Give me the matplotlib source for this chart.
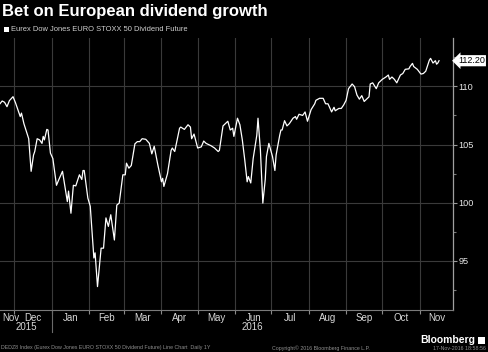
import matplotlib
matplotlib.use('Agg')
import matplotlib.pyplot as plt
import matplotlib.dates as mdates
import matplotlib.transforms as mtransforms
from matplotlib.ticker import FixedLocator, MultipleLocator, NullFormatter, FixedFormatter
import pandas as pd

dates = [
    "2015-11-19", "2015-11-21", "2015-11-23", "2015-11-25", "2015-11-27", "2015-11-30",
    "2015-12-02", "2015-12-06", "2015-12-07", "2015-12-09", "2015-12-13", "2015-12-15",
    "2015-12-17", "2015-12-18", "2015-12-20", "2015-12-22", "2015-12-24", "2015-12-25",
    "2015-12-26", "2015-12-28", "2015-12-29", "2015-12-31",
    "2016-01-02", "2016-01-05", "2016-01-07", "2016-01-10", "2016-01-12", "2016-01-14",
    "2016-01-15", "2016-01-17", "2016-01-19", "2016-01-21", "2016-01-24", "2016-01-26",
    "2016-01-27", "2016-01-28", "2016-01-31",
    "2016-02-02", "2016-02-05", "2016-02-06", "2016-02-08", "2016-02-11", "2016-02-13",
    "2016-02-15", "2016-02-17", "2016-02-19", "2016-02-22", "2016-02-24", "2016-02-26",
    "2016-02-29",
    "2016-03-02", "2016-03-03", "2016-03-05", "2016-03-07", "2016-03-10", "2016-03-12",
    "2016-03-14", "2016-03-16", "2016-03-19", "2016-03-22", "2016-03-24", "2016-03-26",
    "2016-03-29",
    "2016-04-01", "2016-04-02", "2016-04-03", "2016-04-06", "2016-04-09", "2016-04-10",
    "2016-04-12", "2016-04-16", "2016-04-17", "2016-04-20", "2016-04-23", "2016-04-25",
    "2016-04-26", "2016-04-28",
    "2016-05-01", "2016-05-04", "2016-05-06", "2016-05-08", "2016-05-12", "2016-05-15",
    "2016-05-18", "2016-05-19", "2016-05-22", "2016-05-24", "2016-05-26", "2016-05-28",
    "2016-05-30", "2016-05-31",
    "2016-06-03", "2016-06-05", "2016-06-07", "2016-06-09", "2016-06-11", "2016-06-12",
    "2016-06-14", "2016-06-16", "2016-06-18", "2016-06-19", "2016-06-20", "2016-06-22",
    "2016-06-24", "2016-06-26", "2016-06-27", "2016-06-29",
    "2016-07-02", "2016-07-04", "2016-07-05", "2016-07-08", "2016-07-09", "2016-07-10",
    "2016-07-12", "2016-07-14", "2016-07-16", "2016-07-19", "2016-07-21", "2016-07-22",
    "2016-07-24", "2016-07-27", "2016-07-29", "2016-07-31",
    "2016-08-03", "2016-08-06", "2016-08-07", "2016-08-10", "2016-08-13", "2016-08-15",
    "2016-08-17", "2016-08-20", "2016-08-22", "2016-08-23", "2016-08-26", "2016-08-28",
    "2016-08-30",
    "2016-09-01", "2016-09-03", "2016-09-06", "2016-09-08", "2016-09-10", "2016-09-12",
    "2016-09-14", "2016-09-16", "2016-09-18", "2016-09-20", "2016-09-21", "2016-09-23",
    "2016-09-25", "2016-09-26", "2016-09-28",
    "2016-10-01", "2016-10-04", "2016-10-06", "2016-10-07", "2016-10-09", "2016-10-11",
    "2016-10-13", "2016-10-16", "2016-10-18", "2016-10-20", "2016-10-23", "2016-10-24",
    "2016-10-26", "2016-10-27", "2016-10-30",
    "2016-11-02", "2016-11-04", "2016-11-06", "2016-11-09", "2016-11-10", "2016-11-12",
    "2016-11-14", "2016-11-15", "2016-11-16", "2016-11-17",
]

values = [
    108.48, 108.74, 108.63, 108.25, 108.77, 109.11,
    108.60, 107.40, 107.70, 106.80, 105.50, 102.70,
    104.10, 104.40, 105.50, 105.40, 105.10, 105.70,
    105.40, 106.30, 106.25, 104.26,
    103.80, 101.50, 102.00, 102.70, 101.40, 100.10,
    101.00, 99.10, 101.50, 101.45, 102.40, 102.00,
    102.77, 102.77, 100.40,
    99.70, 95.26, 95.70, 92.80, 96.10, 96.10,
    98.70, 97.97, 98.97, 96.80, 99.80, 99.97,
    102.40,
    102.40, 103.40, 102.97, 103.20, 105.06, 105.25,
    105.25, 105.50, 105.45, 105.10, 104.20, 104.85,
    103.25,
    101.80, 102.10, 101.40, 102.50, 104.50, 104.70,
    104.40, 106.40, 106.50, 106.30, 106.70, 106.50,
    105.50, 105.90,
    104.70, 104.80, 105.30, 105.10, 104.90, 104.70,
    104.40, 104.50, 106.60, 106.80, 107.00, 106.25,
    106.40, 105.70,
    107.26, 106.70, 105.40, 103.70, 101.80, 102.25,
    101.70, 103.80, 105.10, 105.80, 107.26, 104.50,
    99.97, 102.00, 103.97, 105.10,
    103.97, 102.77, 104.10, 105.80, 106.25, 106.25,
    107.05, 106.60, 106.80, 107.26, 107.40, 107.17,
    107.60, 107.50, 107.80, 107.00,
    108.00, 108.50, 108.80, 108.97, 108.97, 108.50,
    108.50, 107.80, 108.20, 107.90, 108.10, 108.10,
    108.40,
    108.80, 109.80, 110.20, 109.97, 109.25, 108.90,
    109.20, 108.70, 108.90, 109.10, 110.20, 110.30,
    109.97, 109.80, 110.30,
    110.60, 110.80, 110.97, 110.60, 110.80, 110.60,
    110.30, 110.97, 111.10, 111.46, 111.50, 111.70,
    111.97, 111.70, 111.46,
    111.05, 111.10, 111.30, 112.25, 112.40, 112.00,
    112.20, 111.90, 112.00, 112.20,
]

month_labels = ["Nov", "Dec", "Jan", "Feb", "Mar", "Apr", "May", "Jun",
                "Jul", "Aug", "Sep", "Oct", "Nov"]
year_labels = ["2015", "2016"]
y_ticks = [95, 100, 105, 110]
last_value_label = "112.20"

title = "Bet on European dividend growth"
legend_label = "Eurex Dow Jones EURO STOXX 50 Dividend Future"
footer_left = "DEDZ8 Index (Eurex Dow Jones EURO STOXX 50 Dividend Future) Line Chart  Daily 1Y"
footer_mid = "Copyright\u00a9 2016 Bloomberg Finance L.P."
footer_right = "17-Nov-2016 18:58:56"

FONT = ["Liberation Sans", "DejaVu Sans"]
W, H = 488, 352

fig = plt.figure(figsize=(W / 100, H / 100), dpi=100, facecolor="black")
ax = fig.add_axes([0, 1 - 310 / H, 453 / W, (310 - 38) / H])
ax.set_facecolor("black")

d = pd.to_datetime(dates)
ax.plot(d, values, color="white", lw=0.9, solid_joinstyle="round", zorder=3)

x0 = pd.Timestamp("2015-11-19 05:00")
x1 = pd.Timestamp("2016-11-28 14:00")
ax.set_xlim(x0, x1)
ax.set_ylim(90.79, 114.15)

# month boundaries
starts = pd.date_range("2015-11-01", "2016-12-01", freq="MS")
bounds = starts[1:-1]
ax.xaxis.set_major_locator(FixedLocator(mdates.date2num(bounds)))
ax.xaxis.set_major_formatter(NullFormatter())
centers = []
for a, b in zip(starts[:-1], starts[1:]):
    lo = max(a, x0)
    hi = min(b, x1)
    centers.append(mdates.date2num(lo) + (mdates.date2num(hi) - mdates.date2num(lo)) / 2)
# first (partial) month label is pushed right so it stays inside the figure
centers[0] = mdates.date2num(x0) + 0.75 * (mdates.date2num(starts[1]) - mdates.date2num(x0))
ax.xaxis.set_minor_locator(FixedLocator(centers))
ax.xaxis.set_minor_formatter(FixedFormatter(month_labels))
ax.tick_params(axis="x", which="major", length=3, color="#8a8a8a", width=0.8, direction="out")
ax.tick_params(axis="x", which="minor", length=0, pad=2, labelsize=7, labelcolor="#d8d8d8")
for lab in ax.get_xticklabels(minor=True):
    lab.set_family(FONT)

# y axis on right
ax.yaxis.tick_right()
ax.yaxis.set_major_locator(FixedLocator(y_ticks))
ax.yaxis.set_minor_locator(MultipleLocator(2.5))
ax.tick_params(axis="y", which="major", length=3, color="#9a9a9a", width=0.8,
               pad=1.2, labelsize=6.6, labelcolor="#e8e8e8")
ax.tick_params(axis="y", which="minor", length=2, color="#7a7a7a", width=0.8)
for lab in ax.get_yticklabels():
    lab.set_family(FONT)

ax.grid(True, which="major", axis="both", color="#3a3a3a", lw=0.8, zorder=0)

for s in ["top", "left"]:
    ax.spines[s].set_visible(False)
ax.spines["right"].set_color("#a0a0a0")
ax.spines["right"].set_linewidth(0.9)
ax.spines["bottom"].set_color("#7a7a7a")
ax.spines["bottom"].set_linewidth(0.8)

# year labels and separator
trans = mtransforms.blended_transform_factory(ax.transData, ax.transAxes)
jan1 = pd.Timestamp("2016-01-01")
ycen = [mdates.date2num(x0) + (mdates.date2num(jan1) - mdates.date2num(x0)) / 2,
        mdates.date2num(jan1) + (mdates.date2num(x1) - mdates.date2num(jan1)) / 2]
for yl, xc in zip(year_labels, ycen):
    ax.text(xc, -17 / 272, yl, transform=trans, ha="center", va="center",
            fontsize=7, color="#d8d8d8", family=FONT)
ax.plot([mdates.date2num(jan1)] * 2, [0, -22 / 272], transform=trans, clip_on=False,
        color="#6a6a6a", lw=0.8)

# last value tag
ax.annotate(last_value_label, xy=(1.0, values[-1]), xycoords=("axes fraction", "data"),
            xytext=(3.6, 0), textcoords="offset points", ha="left", va="center",
            fontsize=6.5, color="black", family=FONT,
            bbox=dict(boxstyle="larrow,pad=0.12", fc="white", ec="none"),
            annotation_clip=False)

# title and legend
fig.text(2 / W, 1 - 16 / H, title, fontsize=12, fontweight="bold", color="white",
         family=FONT, va="baseline", ha="left")
fig.patches.append(plt.Rectangle((4 / W, 1 - 32 / H), 5 / W, 5 / H, transform=fig.transFigure,
                                 fc="white", ec="none"))
fig.text(11 / W, 1 - 29.5 / H, legend_label, fontsize=5.4, color="#d0d0d0",
         family=FONT, va="center", ha="left")

# footer
fig.text(1 / W, 1 - 348 / H, footer_left, fontsize=3.8, color="#909090", family=FONT,
         va="center", ha="left")
fig.text(272 / W, 1 - 348 / H, footer_mid, fontsize=3.8, color="#909090", family=FONT,
         va="center", ha="left")
fig.text(486 / W, 1 - 348 / H, footer_right, fontsize=3.8, color="#909090", family=FONT,
         va="center", ha="right")
fig.text(475 / W, 1 - 340 / H, "Bloomberg", fontsize=7.5, fontweight="bold", color="white",
         family=FONT, va="center", ha="right")
fig.patches.append(plt.Rectangle((478 / W, 1 - 344 / H), 7 / W, 7 / H, transform=fig.transFigure,
                                 fc="white", ec="none"))

fig.savefig("out.png", dpi=100, facecolor="black")
